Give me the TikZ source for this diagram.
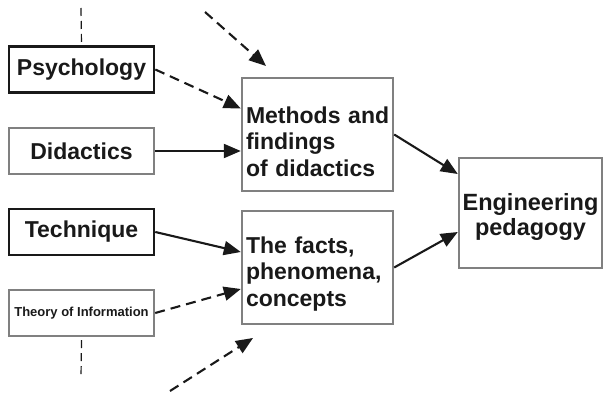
\documentclass[tikz,border=0pt]{standalone}
\usepackage{fontspec}
\setmainfont{Liberation Sans}
\usepackage{tikz}
\usetikzlibrary{arrows.meta, positioning}
\usepackage{xcolor}
\definecolor{boxgray}{gray}{0.5}
\definecolor{ink}{gray}{0.1}

\begin{document}
\begin{tikzpicture}[x=1pt, y=-1pt,
    every node/.style={font=\bfseries, text=ink},
    darkbox/.style={draw=ink, line width=2.6pt, inner sep=0pt, minimum width=145pt, minimum height=46pt},
    greybox/.style={draw=boxgray, line width=2.4pt, inner sep=0pt, minimum width=145pt, minimum height=46pt},
    bigbox/.style={draw=boxgray, line width=2.4pt, inner xsep=4pt, inner ysep=5pt, minimum width=151pt, minimum height=113pt, text width=143pt, align=left},
    flow/.style={draw=ink, line width=2.1pt, -{Triangle[length=17pt, width=14pt]}},
    weak/.style={flow, dash pattern=on 10pt off 6pt}]
        \useasboundingbox (0,0) rectangle (603,396);
        % Sources
        \node[darkbox, font=\bfseries\fontsize{23}{26}\selectfont] (psy) at (81.5,69.5) {Psychology};
        \node[greybox, font=\bfseries\fontsize{23}{26}\selectfont] (did) at (81.5,151) {Didactics};
        \node[darkbox, font=\bfseries\fontsize{23}{26}\selectfont] (tech) at (81.5,232) {Technique};
        \node[greybox, font=\bfseries\fontsize{13}{15}\selectfont] (theo) at (81.5,313) {Theory of Information};
        % Middle boxes (strut pushes the text a little down)
        \node[bigbox, font=\bfseries\fontsize{23}{26.5}\selectfont] (meth) at (317.5,134.5) {\rule{0pt}{31pt}Methods~and\\findings\\of didactics};
        \node[bigbox, font=\bfseries\fontsize{23}{26.5}\selectfont] (facts) at (317.5,267.5) {\rule{0pt}{29pt}The facts,\\phenomena,\\concepts};
        % Target
        \node[draw=boxgray, line width=2.4pt, minimum width=143pt, minimum height=110pt, align=center,
              font=\bfseries\fontsize{23.5}{25}\selectfont] (eng) at (530.5,213) {\rule{0pt}{24pt}Engineering\\pedagogy};
        % Free ends
        \coordinate (ptop) at (81,8);
        \coordinate (pbot) at (81,378);
        \coordinate (atop) at (205,12);
        \coordinate (atopend) at (266,66);
        \coordinate (abot) at (170,391);
        \coordinate (abotend) at (253,338);
        % Dashed guides
        \draw[draw=ink, line width=1.2pt, dash pattern=on 8pt off 5pt] (ptop) -- (psy.north);
        \draw[draw=ink, line width=1.2pt, dash pattern=on 8pt off 5pt] ([yshift=-3pt]theo.south) -- (pbot);
        % Arrows
        \draw[weak] (atop) -- (atopend);
        \draw[weak] (psy.east) -- ([yshift=26pt]meth.west);
        \draw[flow] (did.east) -- (did.east -| meth.west);
        \draw[flow] (tech.east) -- ([yshift=15.5pt]facts.west);
        \draw[weak] (theo.east) -- ([yshift=-21.5pt]facts.west);
        \draw[weak] (abot) -- (abotend);
        \draw[flow] (meth.east) -- ([yshift=39pt]eng.west);
        \draw[flow] (facts.east) -- ([yshift=-19pt]eng.west);
    \end{tikzpicture}
\end{document}
